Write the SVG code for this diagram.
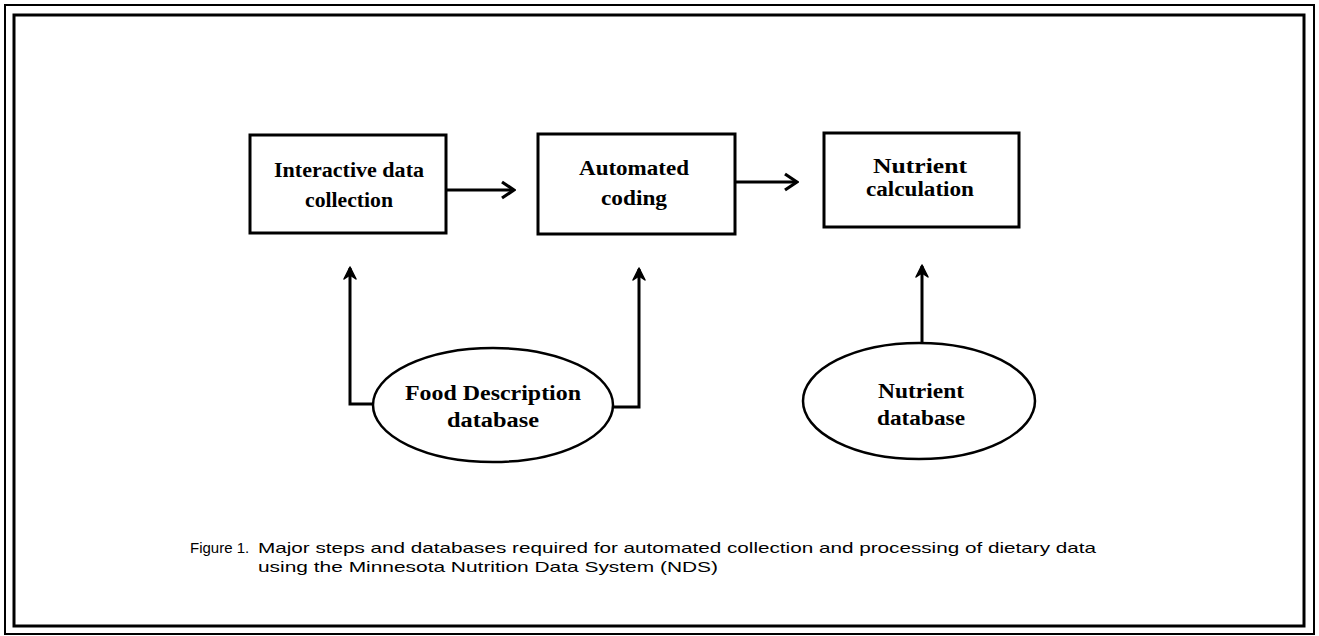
<svg xmlns="http://www.w3.org/2000/svg" width="1319" height="636" viewBox="0 0 1319 636">
  <style>
    .frame-o { fill: none; stroke: #000; stroke-width: 2; }
    .frame-i { fill: none; stroke: #000; stroke-width: 3; }
    .box { fill: #fff; stroke: #000; stroke-width: 3; }
    .oval { fill: #fff; stroke: #000; stroke-width: 2.5; }
    .lbl { font-family: "Liberation Serif", serif; font-weight: bold; font-size: 20px; fill: #000; text-anchor: middle; }
    .cap { font-family: "Liberation Sans", sans-serif; font-size: 15px; fill: #000; }
    .conn { fill: none; stroke: #000; stroke-width: 3; }
  </style>
  <defs>
    <marker id="chev" viewBox="0 0 16 20" refX="14" refY="10" markerWidth="16" markerHeight="20" markerUnits="userSpaceOnUse" orient="auto">
      <polyline points="2,2 14,10 2,18" fill="none" stroke="#000" stroke-width="3.2"/>
    </marker>
    <marker id="head" viewBox="0 0 14 14" refX="12" refY="7" markerWidth="14" markerHeight="14" markerUnits="userSpaceOnUse" orient="auto">
      <polygon points="1,1 13,7 1,13 5,7" fill="#000" stroke="#000" stroke-width="1.5" stroke-linejoin="round"/>
    </marker>
  </defs>
  <rect width="1319" height="636" fill="#fff"/>
  <g id="frame">
    <rect class="frame-o" x="5" y="5" width="1309" height="629"/>
    <rect class="frame-i" x="14" y="15" width="1290" height="611"/>
  </g>
  <g id="connectors">
    <line class="conn" x1="446" y1="190" x2="514" y2="190" marker-end="url(#chev)"/>
    <line class="conn" x1="735" y1="182" x2="797" y2="182" marker-end="url(#chev)"/>
    <polyline class="conn" points="373,404 350,404 350,268" marker-end="url(#head)"/>
    <polyline class="conn" points="613,407 639,407 639,269" marker-end="url(#head)"/>
    <line class="conn" x1="922" y1="343" x2="922" y2="266" marker-end="url(#head)"/>
  </g>
  <g id="node-interactive">
    <rect class="box" x="250" y="135" width="196" height="98"/>
    <text class="lbl" x="349" y="177" textLength="150" lengthAdjust="spacingAndGlyphs">Interactive data</text>
    <text class="lbl" x="349" y="207" textLength="88" lengthAdjust="spacingAndGlyphs">collection</text>
  </g>
  <g id="node-automated">
    <rect class="box" x="538" y="134" width="197" height="100"/>
    <text class="lbl" x="634" y="175" textLength="110" lengthAdjust="spacingAndGlyphs">Automated</text>
    <text class="lbl" x="634" y="205" textLength="66" lengthAdjust="spacingAndGlyphs">coding</text>
  </g>
  <g id="node-nutrient-calc">
    <rect class="box" x="824" y="133" width="195" height="94"/>
    <text class="lbl" x="920" y="173" textLength="94" lengthAdjust="spacingAndGlyphs">Nutrient</text>
    <text class="lbl" x="920" y="196" textLength="108" lengthAdjust="spacingAndGlyphs">calculation</text>
  </g>
  <g id="node-food-db">
    <ellipse class="oval" cx="493" cy="405" rx="120" ry="57"/>
    <text class="lbl" x="493" y="400" textLength="176" lengthAdjust="spacingAndGlyphs">Food Description</text>
    <text class="lbl" x="493" y="427" textLength="92" lengthAdjust="spacingAndGlyphs">database</text>
  </g>
  <g id="node-nutrient-db">
    <ellipse class="oval" cx="919" cy="401" rx="116" ry="58"/>
    <text class="lbl" x="921" y="398" textLength="86" lengthAdjust="spacingAndGlyphs">Nutrient</text>
    <text class="lbl" x="921" y="425" textLength="88" lengthAdjust="spacingAndGlyphs">database</text>
  </g>
  <g id="caption">
    <text class="cap" x="190" y="553">Figure 1.</text>
    <text class="cap" x="258" y="553" textLength="838" lengthAdjust="spacingAndGlyphs">Major steps and databases required for automated collection and processing of dietary data</text>
    <text class="cap" x="258" y="572" textLength="460" lengthAdjust="spacingAndGlyphs">using the Minnesota Nutrition Data System (NDS)</text>
  </g>
</svg>
